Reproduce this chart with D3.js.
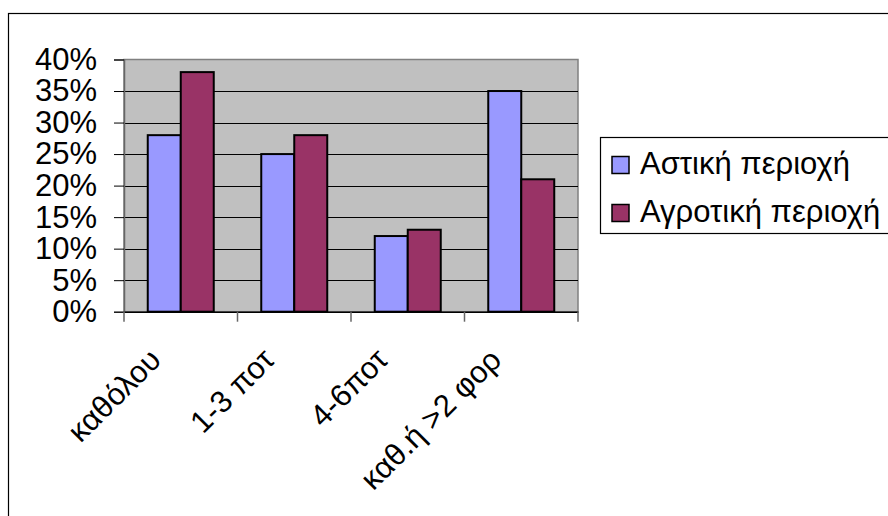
<!DOCTYPE html>
<html>
<head>
<meta charset="utf-8">
<script src="https://cdn.jsdelivr.net/npm/d3@7"></script>
<style>
  html, body { margin: 0; padding: 0; background: #fff; }
  svg { display: block; font-family: "Liberation Sans", Arial, sans-serif; }
</style>
</head>
<body>
<svg id="chart" width="888" height="516"></svg>
<script>
// Frequency categories and the share of respondents per area type
const categories = ["καθόλου", "1-3 ποτ", "4-6ποτ", "καθ.ή >2 φορ"];
const seriesNames = ["Αστική περιοχή", "Αγροτική περιοχή"];
const urbanValues = [28, 25, 12, 35];
const ruralValues = [38, 28, 13, 21];
const yTicks = [0, 5, 10, 15, 20, 25, 30, 35, 40];
const seriesColors = ["#9999FF", "#993366"];

const svg = d3.select("#chart");
const fontSize = 31;

// Outer chart frame
svg.append("rect")
  .attr("x", 8.5).attr("y", 13.5)
  .attr("width", 900).attr("height", 520)
  .attr("fill", "#fff").attr("stroke", "#000").attr("stroke-width", 1.2);

const plot = { left: 124, top: 59.5, right: 578, bottom: 311.7 };

const x = d3.scaleBand()
  .domain(categories)
  .range([plot.left, plot.right])
  .paddingInner(0).paddingOuter(0);

const y = d3.scaleLinear()
  .domain([0, 40])
  .range([plot.bottom, plot.top]);

// Plot background
svg.append("rect")
  .attr("x", plot.left).attr("y", plot.top)
  .attr("width", plot.right - plot.left).attr("height", plot.bottom - plot.top)
  .attr("fill", "#C0C0C0")
  .attr("stroke", "#808080").attr("stroke-width", 1.5);

// Horizontal gridlines
svg.append("g")
  .selectAll("line")
  .data(yTicks.filter(d => d > 0 && d < 40))
  .join("line")
  .attr("x1", plot.left).attr("x2", plot.right)
  .attr("y1", d => Math.round(y(d)) + 0.5).attr("y2", d => Math.round(y(d)) + 0.5)
  .attr("stroke", "#000").attr("stroke-width", 1);

// Bars
const barW = 33;
const groupOffset = (x.bandwidth() - 2 * barW) / 2;
const series = [urbanValues, ruralValues];
series.forEach((vals, si) => {
  svg.append("g")
    .selectAll("rect")
    .data(categories.map((c, i) => ({ c, v: vals[i] })))
    .join("rect")
    .attr("x", d => x(d.c) + groupOffset + si * barW)
    .attr("y", d => y(d.v))
    .attr("width", barW)
    .attr("height", d => y(0) - y(d.v))
    .attr("fill", seriesColors[si])
    .attr("stroke", "#000").attr("stroke-width", 2);
});

// Y axis
const yAxis = svg.append("g")
  .attr("transform", `translate(${plot.left},0)`)
  .call(d3.axisLeft(y).tickValues(yTicks).tickFormat(d => d + "%").tickSize(10).tickPadding(17));
yAxis.select(".domain").attr("stroke", "#666").attr("stroke-width", 1.5);
yAxis.selectAll(".tick line").attr("stroke", "#000");
yAxis.selectAll(".tick text")
  .attr("font-size", fontSize).attr("fill", "#000")
  .attr("font-family", "Liberation Sans, Arial, sans-serif");

// X axis
const xAxis = svg.append("g")
  .attr("transform", `translate(0,${plot.bottom})`)
  .call(d3.axisBottom(x).tickSize(0).tickFormat(""));
xAxis.select(".domain").attr("stroke", "#000").attr("stroke-width", 1.5);

// Category separator ticks
svg.append("g")
  .selectAll("line")
  .data(categories.map(c => x(c)).concat([plot.right]))
  .join("line")
  .attr("x1", d => d).attr("x2", d => d)
  .attr("y1", plot.bottom).attr("y2", plot.bottom + 10)
  .attr("stroke", "#666").attr("stroke-width", 1.5);

// Rotated category labels
svg.append("g")
  .selectAll("text")
  .data(categories)
  .join("text")
  .attr("transform", d => `translate(${x(d) + x.bandwidth() / 2 - 18},${plot.bottom + 50}) rotate(-45)`)
  .attr("text-anchor", "end")
  .attr("font-size", fontSize)
  .attr("fill", "#000")
  .text(d => d);

// Legend
const legend = svg.append("g");
legend.append("rect")
  .attr("x", 600.5).attr("y", 137.5)
  .attr("width", 300).attr("height", 96)
  .attr("fill", "#fff").attr("stroke", "#000").attr("stroke-width", 1.2);
seriesNames.forEach((name, i) => {
  const base = 173.5 + i * 48;
  legend.append("rect")
    .attr("x", 612).attr("y", base - 17)
    .attr("width", 17).attr("height", 17)
    .attr("fill", seriesColors[i])
    .attr("stroke", "#000").attr("stroke-width", 1.5);
  legend.append("text")
    .attr("x", 640).attr("y", base)
    .attr("font-size", fontSize)
    .attr("fill", "#000")
    .text(name);
});
</script>
</body>
</html>
